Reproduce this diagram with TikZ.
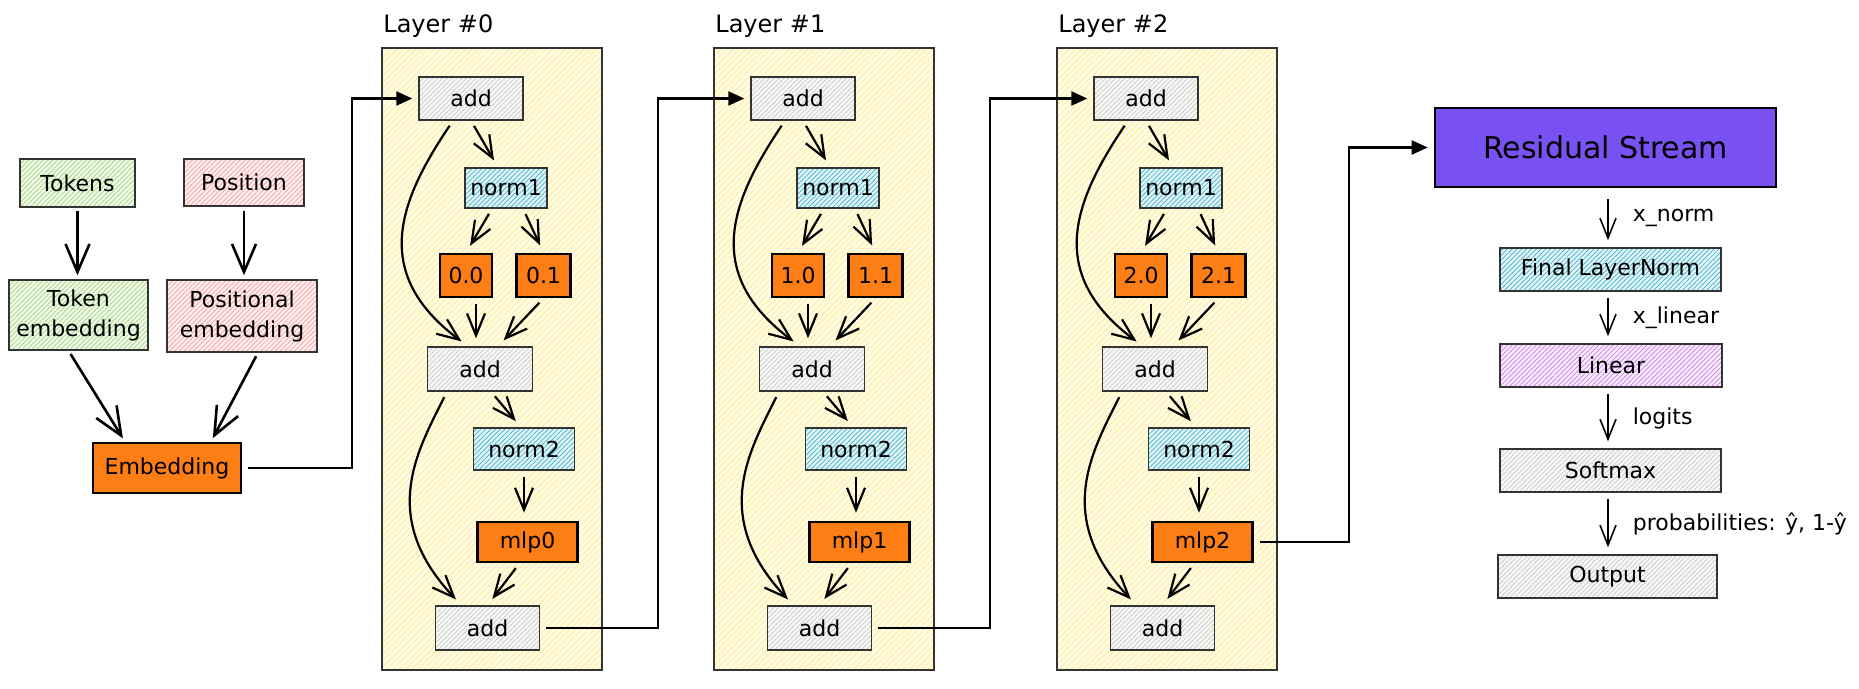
\documentclass[tikz,border=0pt]{standalone}
\usepackage{fontspec}
\setmainfont{DejaVu Sans}
\usetikzlibrary{arrows.meta,patterns.meta}

\definecolor{tokgreen}{RGB}{160,215,120}
\definecolor{posred}{RGB}{248,155,155}
\definecolor{normcyan}{RGB}{60,180,200}
\definecolor{addgray}{RGB}{200,202,198}
\definecolor{linpurple}{RGB}{205,125,235}
\definecolor{layeryellow}{RGB}{255,238,140}
\definecolor{mlporange}{RGB}{253,126,20}
\definecolor{respurple}{RGB}{121,80,242}

\begin{document}
\begin{tikzpicture}[x=0.5pt,y=-0.5pt,
  every node/.style={font=\fontsize{11}{15}\selectfont, inner sep=0pt, align=center},
  hatch/.style={draw=black!80, line width=0.7pt, preaction={fill=#1!15},
    pattern={Lines[angle=45,distance=1.7pt,line width=0.35pt]}, pattern color=#1},
  block/.style={draw=black, line width=1.3pt, fill=#1},
  frame/.style={draw=black!80, line width=0.6pt, preaction={fill=layeryellow!22},
    pattern={Lines[angle=45,distance=2.2pt,line width=0.4pt]}, pattern color=layeryellow,
    minimum width=110pt, minimum height=311pt},
  flow/.style={-{Straight Barb[length=11pt,width=9pt]}, line width=1.1pt, shorten <=3pt, shorten >=4pt},
  feed/.style={-{Straight Barb[length=14pt,width=12pt]}, line width=1.3pt, shorten <=2pt, shorten >=2pt},
  outflow/.style={-{Straight Barb[length=10pt,width=8pt]}, line width=0.8pt, shorten <=3pt, shorten >=3.5pt},
  link/.style={-{Triangle[length=8pt,width=7pt]}, line width=1.1pt, shorten <=3pt, shorten >=3pt}]

\fill[white] (0,0) rectangle (1859,689);

% inputs
\node[hatch=tokgreen, minimum width=57.5pt, minimum height=24pt] (tok) at (77.5,183) {Tokens};
\node[hatch=posred, minimum width=60pt, minimum height=23.5pt] (pos) at (244,182.5) {Position};
\node[hatch=tokgreen, minimum width=69.5pt, minimum height=35pt] (tokemb) at (78.5,315) {Token\\embedding};
\node[hatch=posred, minimum width=75pt, minimum height=36pt] (posemb) at (242,316) {Positional\\embedding};
\node[block=mlporange, minimum width=74pt, minimum height=25pt] (emb) at (167,468) {Embedding};

\draw[feed] (tok.south) -- (tok.south |- tokemb.north);
\draw[feed] (pos.south) -- (pos.south |- posemb.north);
\draw[feed] ([xshift=-5pt]tokemb.south) -- ([xshift=-21pt]emb.north);
\draw[feed] ([xshift=8pt]posemb.south) -- ([xshift=22pt]emb.north);

% layers
\foreach \lx/\k in {382/0,714/1,1057/2} {
  \begin{scope}[shift={(\lx,0)}]
    \node[frame] (layer\k) at (110,359) {};
    \node[anchor=base west, font=\fontsize{12}{14}\selectfont] (title\k) at (1,33) {Layer \#\k};
    \node[hatch=addgray, minimum width=52pt, minimum height=21.5pt] (addin\k) at (89,98.5) {add};
    \node[hatch=normcyan, minimum width=41pt, minimum height=20pt] (norma\k) at (124,188) {norm1};
    \node[block=mlporange, minimum width=26pt, minimum height=21.5pt] (heada\k) at (84,275.5) {\k.0};
    \node[block=mlporange, minimum width=27pt, minimum height=21.5pt] (headb\k) at (161.5,275.5) {\k.1};
    \node[hatch=addgray, minimum width=52.5pt, minimum height=22pt] (addmid\k) at (98,369) {add};
    \node[hatch=normcyan, minimum width=50.5pt, minimum height=21pt] (normb\k) at (142,449) {norm2};
    \node[block=mlporange, minimum width=50pt, minimum height=20pt] (mlp\k) at (145.5,542) {mlp\k};
    \node[hatch=addgray, minimum width=52pt, minimum height=22pt] (addout\k) at (105.5,628) {add};

    \draw[flow] (addin\k.south) -- ([xshift=-4pt]norma\k.north);
    \draw[flow] ([xshift=-7pt]norma\k.south) -- (heada\k.north);
    \draw[flow] ([xshift=8.5pt]norma\k.south) -- (headb\k.north);
    \draw[flow] ([xshift=5pt]heada\k.south) -- ([xshift=-2pt]addmid\k.north);
    \draw[flow] (headb\k.south) -- ([xshift=9pt]addmid\k.north);
    \draw[flow] ([xshift=-9pt]addin\k.south) .. controls +(-56,83) and +(-96,-72) .. ([xshift=-6pt]addmid\k.north);
    \draw[flow] ([xshift=5.5pt]addmid\k.south) -- ([xshift=-1.5pt]normb\k.north);
    \draw[flow] (normb\k.south) -- (normb\k.south |- mlp\k.north);
    \draw[flow] ([xshift=-4pt]mlp\k.south) -- (addout\k.north);
    \draw[flow] ([xshift=-16.5pt]addmid\k.south) .. controls +(-30,60) and +(-83,-88) .. ([xshift=-13pt]addout\k.north);
  \end{scope}
}

% head
\node[block=respurple, minimum width=170.5pt, minimum height=39.5pt, font=\fontsize{15}{18}\selectfont] (res) at (1605.5,147.5) {Residual Stream};
\node[hatch=normcyan, minimum width=110.5pt, minimum height=21.5pt] (fln) at (1610.5,269.5) {Final LayerNorm};
\node[hatch=linpurple, minimum width=111pt, minimum height=21.5pt] (lin) at (1611,365.5) {Linear};
\node[hatch=addgray, minimum width=110.5pt, minimum height=21.5pt] (soft) at (1610.5,470.5) {Softmax};
\node[hatch=addgray, minimum width=109.5pt, minimum height=21.5pt] (outp) at (1607.5,576.5) {Output};

\draw[link] (emb.east) -- ++(110,0) |- (addin0.west);
\draw[link] (addout0.east) -- ++(118,0) |- (addin1.west);
\draw[link] (addout1.east) -- ++(118,0) |- (addin2.west);
\draw[link] (mlp2.east) -- ++(95,0) |- (res.west);

\draw[outflow, shorten <=5.5pt] ([xshift=1.25pt]res.south) -- node[right=12pt] {x\_norm} ([xshift=1.25pt]res.south |- fln.north);
\draw[outflow] ([xshift=-1.25pt]fln.south) -- node[right=12pt] {x\_linear} ([xshift=-1.25pt]fln.south |- lin.north);
\draw[outflow] ([xshift=-1.5pt]lin.south) -- node[right=12pt] {logits} ([xshift=-1.5pt]lin.south |- soft.north);
\draw[outflow] ([xshift=-1.25pt]soft.south) -- node[right=12pt] {probabilities: ŷ, 1-ŷ} ([xshift=-1.25pt]soft.south |- outp.north);
\end{tikzpicture}
\end{document}
